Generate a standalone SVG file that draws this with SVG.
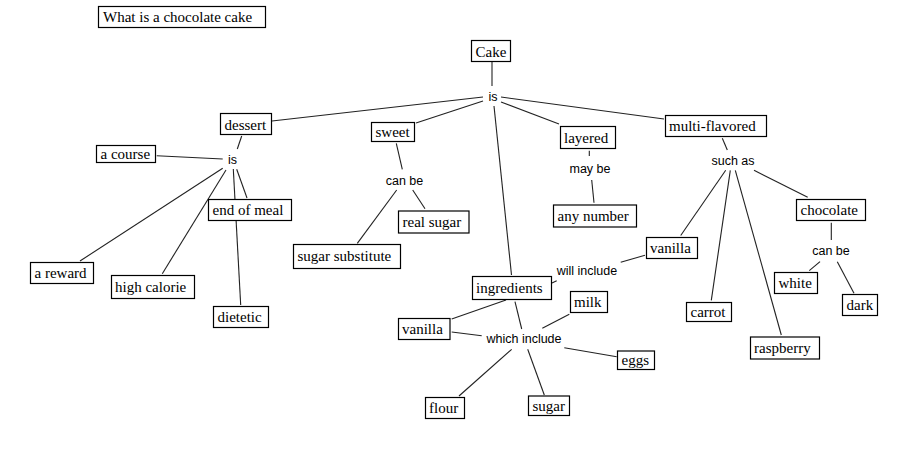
<svg xmlns="http://www.w3.org/2000/svg" width="918" height="459" viewBox="0 0 918 459">
<style>
rect.n{fill:#fff;stroke:#000;stroke-width:1.2}
text.t{font-family:"Liberation Serif","Times New Roman",serif;font-size:15px;fill:#000}
text.l{font-family:"Liberation Sans",Arial,sans-serif;font-size:12.5px;fill:#000;text-anchor:middle}
#connectors line{stroke:#222;stroke-width:1.1}
</style>
<rect width="918" height="459" fill="#fff"/>
<g id="connectors">
<line x1="492" y1="62" x2="492" y2="86"/>
<line x1="272" y1="121" x2="483" y2="97"/>
<line x1="416" y1="123" x2="483" y2="101"/>
<line x1="501" y1="102" x2="559" y2="124"/>
<line x1="501" y1="97" x2="664" y2="119"/>
<line x1="494" y1="106" x2="511.5" y2="275"/>
<line x1="241.7" y1="136" x2="237.3" y2="149"/>
<line x1="156.7" y1="155.7" x2="222.7" y2="159"/>
<line x1="222.7" y1="168.3" x2="80" y2="261"/>
<line x1="226" y1="170" x2="162.3" y2="273.7"/>
<line x1="233.3" y1="169" x2="240.7" y2="305"/>
<line x1="236.7" y1="169.3" x2="247" y2="198"/>
<line x1="396.3" y1="143.3" x2="402.3" y2="169.3"/>
<line x1="396.7" y1="190" x2="357.3" y2="243.3"/>
<line x1="412.7" y1="190" x2="425" y2="208.7"/>
<line x1="589.3" y1="150.7" x2="589.3" y2="156"/>
<line x1="591.7" y1="180" x2="594" y2="202.7"/>
<line x1="722.3" y1="138.3" x2="727.3" y2="150"/>
<line x1="754" y1="170.3" x2="807.7" y2="197.3"/>
<line x1="725.7" y1="170.3" x2="680.7" y2="235.5"/>
<line x1="730.3" y1="170.3" x2="711.3" y2="300.3"/>
<line x1="735.3" y1="170.3" x2="781.3" y2="335"/>
<line x1="831.3" y1="222.7" x2="831.3" y2="240"/>
<line x1="820" y1="261.7" x2="809.3" y2="270.7"/>
<line x1="837.3" y1="261.7" x2="854" y2="293.3"/>
<line x1="645" y1="255.3" x2="620.7" y2="262.3"/>
<line x1="556.7" y1="280.7" x2="552" y2="283"/>
<line x1="506" y1="300" x2="451.7" y2="319"/>
<line x1="451.7" y1="332" x2="481.7" y2="335.7"/>
<line x1="515" y1="301.7" x2="521.7" y2="329"/>
<line x1="542.3" y1="328.3" x2="569.3" y2="314.3"/>
<line x1="564.3" y1="347.7" x2="616.7" y2="356.7"/>
<line x1="511.7" y1="349.3" x2="459" y2="396"/>
<line x1="527.7" y1="349.3" x2="544.3" y2="395"/>
<text class="l" x="493" y="100.5">is</text>
<text class="l" x="232.5" y="163.5">is</text>
<text class="l" x="404.5" y="184.5">can be</text>
<text class="l" x="590" y="172.5">may be</text>
<text class="l" x="733" y="164.5">such as</text>
<text class="l" x="587" y="275">will include</text>
<text class="l" x="524" y="342.5">which include</text>
<text class="l" x="831" y="255">can be</text>
</g>
<g id="title"><rect class="n" x="98.5" y="6.5" width="167" height="21"/><text class="t" x="103" y="22">What is a chocolate cake</text></g>
<g id="cake"><rect class="n" x="471.5" y="40.5" width="39" height="21"/><text class="t" x="475.5" y="56.5">Cake</text></g>
<g id="dessert"><rect class="n" x="220.5" y="113.5" width="51" height="21"/><text class="t" x="224.5" y="129.5">dessert</text></g>
<g id="sweet"><rect class="n" x="371.5" y="122.5" width="43" height="19"/><text class="t" x="375.5" y="137">sweet</text></g>
<g id="layered"><rect class="n" x="560.5" y="126.5" width="55" height="22"/><text class="t" x="564" y="142.5">layered</text></g>
<g id="multi-flavored"><rect class="n" x="665.5" y="115.5" width="101" height="21"/><text class="t" x="669" y="131">multi-flavored</text></g>
<g id="a-course"><rect class="n" x="96.5" y="145.5" width="59" height="17"/><text class="t" x="100.5" y="159">a course</text></g>
<g id="end-of-meal"><rect class="n" x="208.5" y="199.5" width="83" height="21"/><text class="t" x="212.5" y="215">end of meal</text></g>
<g id="real-sugar"><rect class="n" x="398.5" y="211" width="70.5" height="22"/><text class="t" x="402.5" y="227">real sugar</text></g>
<g id="any-number"><rect class="n" x="553.5" y="205" width="83" height="22"/><text class="t" x="557.5" y="221">any number</text></g>
<g id="chocolate"><rect class="n" x="796.5" y="199.5" width="69" height="21"/><text class="t" x="800.5" y="215">chocolate</text></g>
<g id="sugar-substitute"><rect class="n" x="293.5" y="244.5" width="107" height="24"/><text class="t" x="297.5" y="261">sugar substitute</text></g>
<g id="vanilla-flavor"><rect class="n" x="646.5" y="237.5" width="51" height="21"/><text class="t" x="650" y="253">vanilla</text></g>
<g id="a-reward"><rect class="n" x="30.5" y="262.5" width="63" height="21"/><text class="t" x="34.5" y="278">a reward</text></g>
<g id="white"><rect class="n" x="774.5" y="272.5" width="43" height="21"/><text class="t" x="778.5" y="288">white</text></g>
<g id="ingredients"><rect class="n" x="472.5" y="276.5" width="79" height="23"/><text class="t" x="476" y="293">ingredients</text></g>
<g id="high-calorie"><rect class="n" x="111.5" y="275.5" width="83" height="23"/><text class="t" x="115" y="292">high calorie</text></g>
<g id="milk"><rect class="n" x="570.5" y="291.5" width="37" height="21"/><text class="t" x="574" y="307">milk</text></g>
<g id="dark"><rect class="n" x="842.5" y="294.5" width="35" height="21"/><text class="t" x="846.5" y="310">dark</text></g>
<g id="carrot"><rect class="n" x="686.5" y="302.5" width="45" height="19"/><text class="t" x="690.5" y="317">carrot</text></g>
<g id="dietetic"><rect class="n" x="213.5" y="306.5" width="55" height="21"/><text class="t" x="217.5" y="322">dietetic</text></g>
<g id="vanilla-ingredient"><rect class="n" x="398.5" y="318.5" width="51.5" height="21"/><text class="t" x="402" y="334">vanilla</text></g>
<g id="raspberry"><rect class="n" x="750.5" y="337" width="69" height="22"/><text class="t" x="754" y="353">raspberry</text></g>
<g id="eggs"><rect class="n" x="617.5" y="351" width="37" height="18.5"/><text class="t" x="621.5" y="365">eggs</text></g>
<g id="flour"><rect class="n" x="425.5" y="397.5" width="39" height="21"/><text class="t" x="429" y="413">flour</text></g>
<g id="sugar"><rect class="n" x="528.5" y="396" width="41" height="19.5"/><text class="t" x="532.5" y="410.5">sugar</text></g>
</svg>
